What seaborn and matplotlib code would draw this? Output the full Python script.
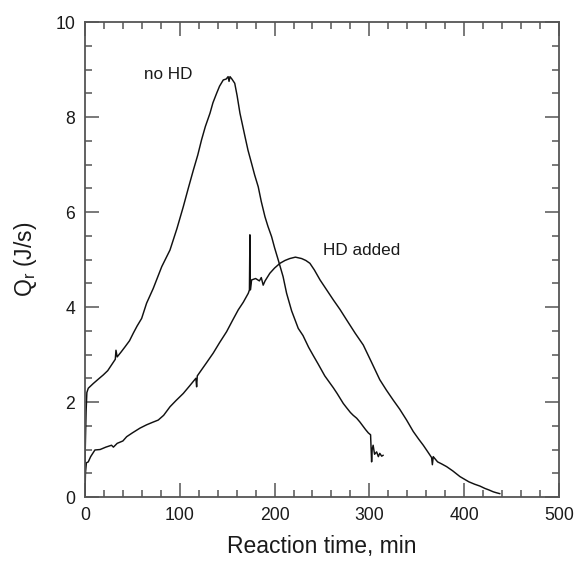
import matplotlib
matplotlib.use("Agg")
import matplotlib.pyplot as plt
from matplotlib.ticker import MultipleLocator
import seaborn as sns
import pandas as pd

# ---- data ----
t_no_hd = [0, 0.3, 1.2, 2, 3.5, 8.8, 14, 19.3, 24, 28,
           32, 32.7, 34, 38, 42.2, 47, 51, 55, 59.8, 65,
           72, 81, 89.7, 97, 103.7, 109, 114.3, 119, 123, 127,
           131.9, 135, 138.9, 142, 145.9, 149, 151, 152, 153, 155,
           158, 160.5, 163.5, 166, 168.8, 172, 175.8, 179, 182.8, 186,
           189.9, 193, 196.9, 200, 203.9, 209, 212.7, 218, 225, 230,
           236, 240.8, 246, 253, 258.4, 262, 266, 272.5, 276, 280,
           283, 286.6, 290, 293, 296, 298.9, 301.3, 302.4, 303, 304,
           305.5, 307.7, 309.5, 311, 313, 314.7]
q_no_hd = [0, 1.0, 1.8, 2.2, 2.29, 2.39, 2.48, 2.57, 2.66, 2.78,
           2.9, 3.09, 2.95, 3.05, 3.16, 3.29, 3.45, 3.6, 3.76, 4.08,
           4.39, 4.85, 5.2, 5.65, 6.11, 6.5, 6.88, 7.2, 7.52, 7.8,
           8.08, 8.3, 8.5, 8.65, 8.78, 8.8, 8.85, 8.75, 8.85, 8.8,
           8.71, 8.45, 8.08, 7.85, 7.59, 7.3, 7.02, 6.78, 6.53, 6.22,
           5.9, 5.7, 5.48, 5.25, 4.99, 4.64, 4.29, 3.92, 3.55, 3.4,
           3.15, 2.98, 2.8, 2.55, 2.4, 2.3, 2.18, 1.97, 1.88, 1.78,
           1.72, 1.66, 1.58, 1.5, 1.42, 1.35, 1.31, 0.74, 1.0, 1.09,
           0.9, 0.95, 0.85, 0.92, 0.86, 0.88]

t_hd = [0, 0.5, 1.5, 3.5, 6, 10.5, 16, 22, 28, 30,
        34, 40, 44, 50, 58, 65, 71, 77.3, 83, 89.7,
        96, 103.7, 110, 117, 117.8, 118.5, 122, 128, 135.3, 142,
        149.4, 156, 161.7, 167, 172.3, 173.5, 174, 174.5, 175.8, 180,
        184, 186, 188, 190, 195, 200, 205.7, 211, 216, 222,
        228.6, 233, 237.3, 242, 248, 255, 262, 269, 276, 285,
        293.6, 302, 311, 318, 325.2, 332, 339.3, 346.3, 352, 356.9,
        361, 365.7, 366.5, 367.4, 372, 376, 381.5, 388, 395.6, 399,
        405, 411, 416.7, 422, 426, 430.7, 434, 437.8]
q_hd = [0, 0.5, 0.72, 0.74, 0.85, 0.99, 1.0, 1.05, 1.09, 1.05,
        1.13, 1.18, 1.27, 1.35, 1.45, 1.52, 1.57, 1.62, 1.72, 1.9,
        2.03, 2.18, 2.33, 2.5, 2.32, 2.55, 2.65, 2.82, 3.03, 3.25,
        3.48, 3.73, 3.94, 4.1, 4.29, 4.36, 5.52, 4.36, 4.57, 4.6,
        4.55, 4.62, 4.46, 4.55, 4.71, 4.82, 4.92, 4.98, 5.02, 5.05,
        5.02, 4.98, 4.92, 4.78, 4.57, 4.36, 4.15, 3.95, 3.73, 3.45,
        3.2, 2.85, 2.47, 2.25, 2.04, 1.85, 1.62, 1.38, 1.22, 1.09,
        0.97, 0.83, 0.68, 0.85, 0.74, 0.7, 0.64, 0.55, 0.43, 0.39,
        0.32, 0.27, 0.23, 0.18, 0.15, 0.11, 0.09, 0.07]

series_names = ["no HD", "HD added"]
x_ticks = [0, 100, 200, 300, 400, 500]
y_ticks = [0, 2, 4, 6, 8, 10]
x_label = "Reaction time, min"
y_label = r"$\mathregular{Q_r}$ (J/s)"

# ---- styling ----
sns.set_theme(style="ticks")
plt.rcParams["font.family"] = ["Liberation Sans", "DejaVu Sans"]
plt.rcParams["mathtext.default"] = "regular"

df = pd.concat([
    pd.DataFrame({"t": t_no_hd, "q": q_no_hd, "series": series_names[0]}),
    pd.DataFrame({"t": t_hd, "q": q_hd, "series": series_names[1]}),
], ignore_index=True)

fig = plt.figure(figsize=(5.78, 5.63), dpi=100)
ax = fig.add_axes([0.147, 0.1172, 0.82, 0.8437])

for name in series_names:
    sns.lineplot(data=df[df["series"] == name], x="t", y="q", ax=ax,
                 sort=False, estimator=None, color="#111111",
                 linewidth=1.05, legend=False)

ax.set_xlim(0, 500)
ax.set_ylim(0, 10)
ax.set_xticks(x_ticks)
ax.set_yticks(y_ticks)
ax.xaxis.set_minor_locator(MultipleLocator(20))
ax.yaxis.set_minor_locator(MultipleLocator(0.5))

spine_c = "#555555"
for s in ax.spines.values():
    s.set_visible(True)
    s.set_color(spine_c)
    s.set_linewidth(1.3)

ax.tick_params(which="both", direction="in", top=True, right=True,
               color=spine_c, width=1.1, labelsize=12.7, labelcolor="#1a1a1a",
               pad=7)
ax.tick_params(which="major", length=10)
ax.tick_params(which="minor", length=5)

ax.set_xlabel(x_label, fontsize=16.5, color="#1a1a1a", labelpad=8)
ax.set_ylabel(y_label, fontsize=16.5, color="#1a1a1a", labelpad=11.5)

ax.text(62, 8.9, series_names[0], fontsize=12.3, color="#1a1a1a",
        ha="left", va="center")
ax.text(251, 5.2, series_names[1], fontsize=12.3, color="#1a1a1a",
        ha="left", va="center")

fig.savefig("out.png", dpi=100)
